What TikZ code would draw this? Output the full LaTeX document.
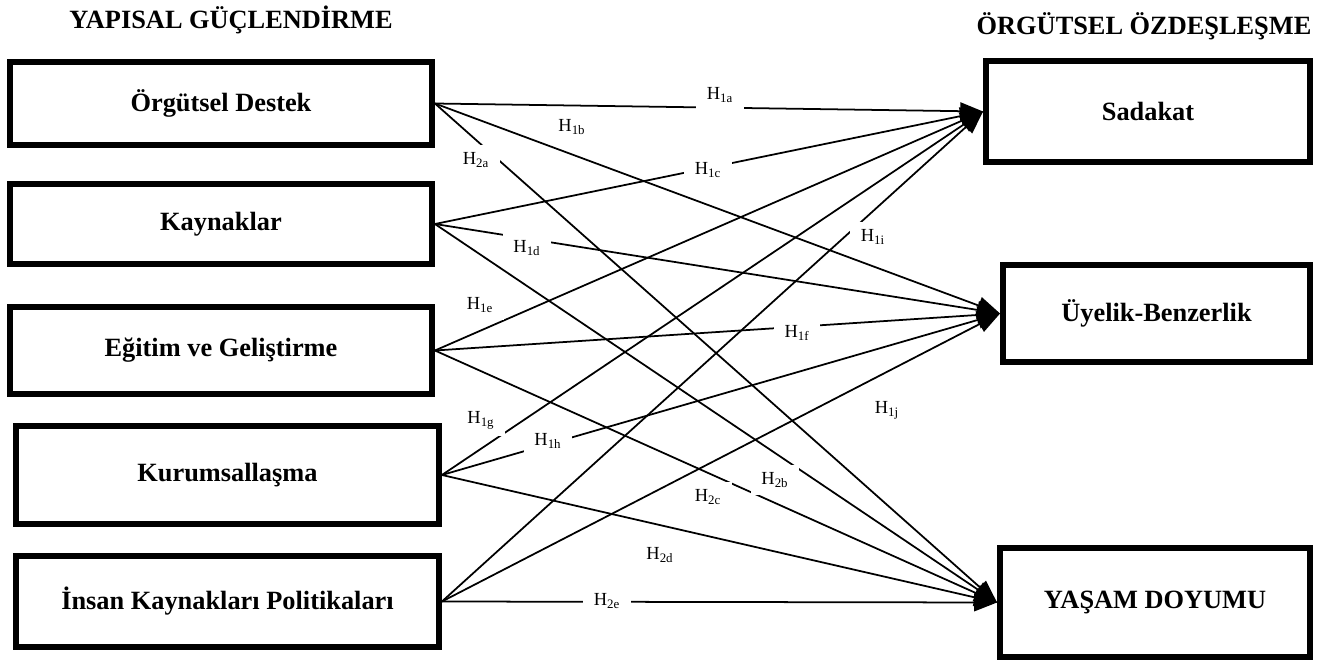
\documentclass[tikz,border=0pt]{standalone}
\usepackage{fontspec}
\setmainfont{Liberation Serif}
\newfontfamily\tnr{Liberation Serif}
\usetikzlibrary{arrows.meta}

\tikzset{
  kutu/.style={draw, line width=3.4pt, inner sep=0pt, font=\tnr\fontsize{15}{17}\selectfont\bfseries},
  baslik/.style={font=\tnr\fontsize{15}{17}\selectfont\bfseries},
  ok/.style={line width=1pt, -{Triangle[length=13pt,width=10pt]}},
  etiket/.style={fill=white, inner xsep=6pt, inner ysep=4pt, font=\tnr\fontsize{10.5}{12}\selectfont}
}

\begin{document}
\begin{tikzpicture}[x=0.02cm, y=-0.02cm]
	\useasboundingbox (0,0) rectangle (1318,662);

	% Başlıklar
	\node[baslik] (yg) at (231,20) {YAPISAL GÜÇLENDİRME};
	\node[baslik] (oo) at (1144,26) {ÖRGÜTSEL ÖZDEŞLEŞME};

	% Sol kutular
	\node[kutu, minimum width=8.44cm, minimum height=1.66cm] (od) at (221,103.5) {Örgütsel Destek};
	\node[kutu, minimum width=8.44cm, minimum height=1.60cm] (ka) at (221,224) {Kaynaklar};
	\node[kutu, minimum width=8.44cm, minimum height=1.74cm] (eg) at (221,350.5) {Eğitim ve Geliştirme};
	\node[kutu, minimum width=8.46cm, minimum height=1.96cm] (ku) at (227.5,475) {Kurumsallaşma};
	\node[kutu, minimum width=8.46cm, minimum height=1.82cm] (ik) at (227.5,601.5) {İnsan Kaynakları Politikaları};

	% Sağ kutular
	\node[kutu, minimum width=6.48cm, minimum height=2.02cm] (sad) at (1148,111.5) {Sadakat};
	\node[kutu, minimum width=6.14cm, minimum height=1.94cm] (uye) at (1156.5,313.5) {Üyelik-Benzerlik};
	\node[kutu, minimum width=6.20cm, minimum height=2.18cm] (yd) at (1155,602.5) {YAŞAM DOYUMU};

	% Oklar
	\draw[ok] (od.east) -- (sad.west);
	\draw[ok] (od.east) -- (uye.west);
	\draw[ok] (od.east) -- (yd.west);
	\draw[ok] (ka.east) -- (sad.west);
	\draw[ok] (ka.east) -- (uye.west);
	\draw[ok] (ka.east) -- (yd.west);
	\draw[ok] (eg.east) -- (sad.west);
	\draw[ok] (eg.east) -- (uye.west);
	\draw[ok] (eg.east) -- (yd.west);
	\draw[ok] (ku.east) -- (sad.west);
	\draw[ok] (ku.east) -- (uye.west);
	\draw[ok] (ku.east) -- (yd.west);
	\draw[ok] (ik.east) -- (sad.west);
	\draw[ok] (ik.east) -- (uye.west);
	\draw[ok] (ik.east) -- (yd.west);

	% Hipotezler
	\node[etiket] (h1a) at (720,95) {H\textsubscript{1a}};
	\node[etiket] (h1b) at (572,127) {H\textsubscript{1b}};
	\node[etiket] (h2a) at (476,160) {H\textsubscript{2a}};
	\node[etiket] (h1c) at (708,170) {H\textsubscript{1c}};
	\node[etiket] (h1d) at (527,248) {H\textsubscript{1d}};
	\node[etiket] (h1i) at (873,237) {H\textsubscript{1i}};
	\node[etiket] (h1e) at (480,305) {H\textsubscript{1e}};
	\node[etiket] (h1f) at (797,333) {H\textsubscript{1f}};
	\node[etiket] (h1j) at (887,410) {H\textsubscript{1j}};
	\node[etiket] (h1g) at (481,420) {H\textsubscript{1g}};
	\node[etiket] (h1h) at (548,441) {H\textsubscript{1h}};
	\node[etiket] (h2b) at (775,480) {H\textsubscript{2b}};
	\node[etiket] (h2c) at (708,497) {H\textsubscript{2c}};
	\node[etiket] (h2d) at (660,555) {H\textsubscript{2d}};
	\node[etiket] (h2e) at (607,601) {H\textsubscript{2e}};

\end{tikzpicture}
\end{document}
